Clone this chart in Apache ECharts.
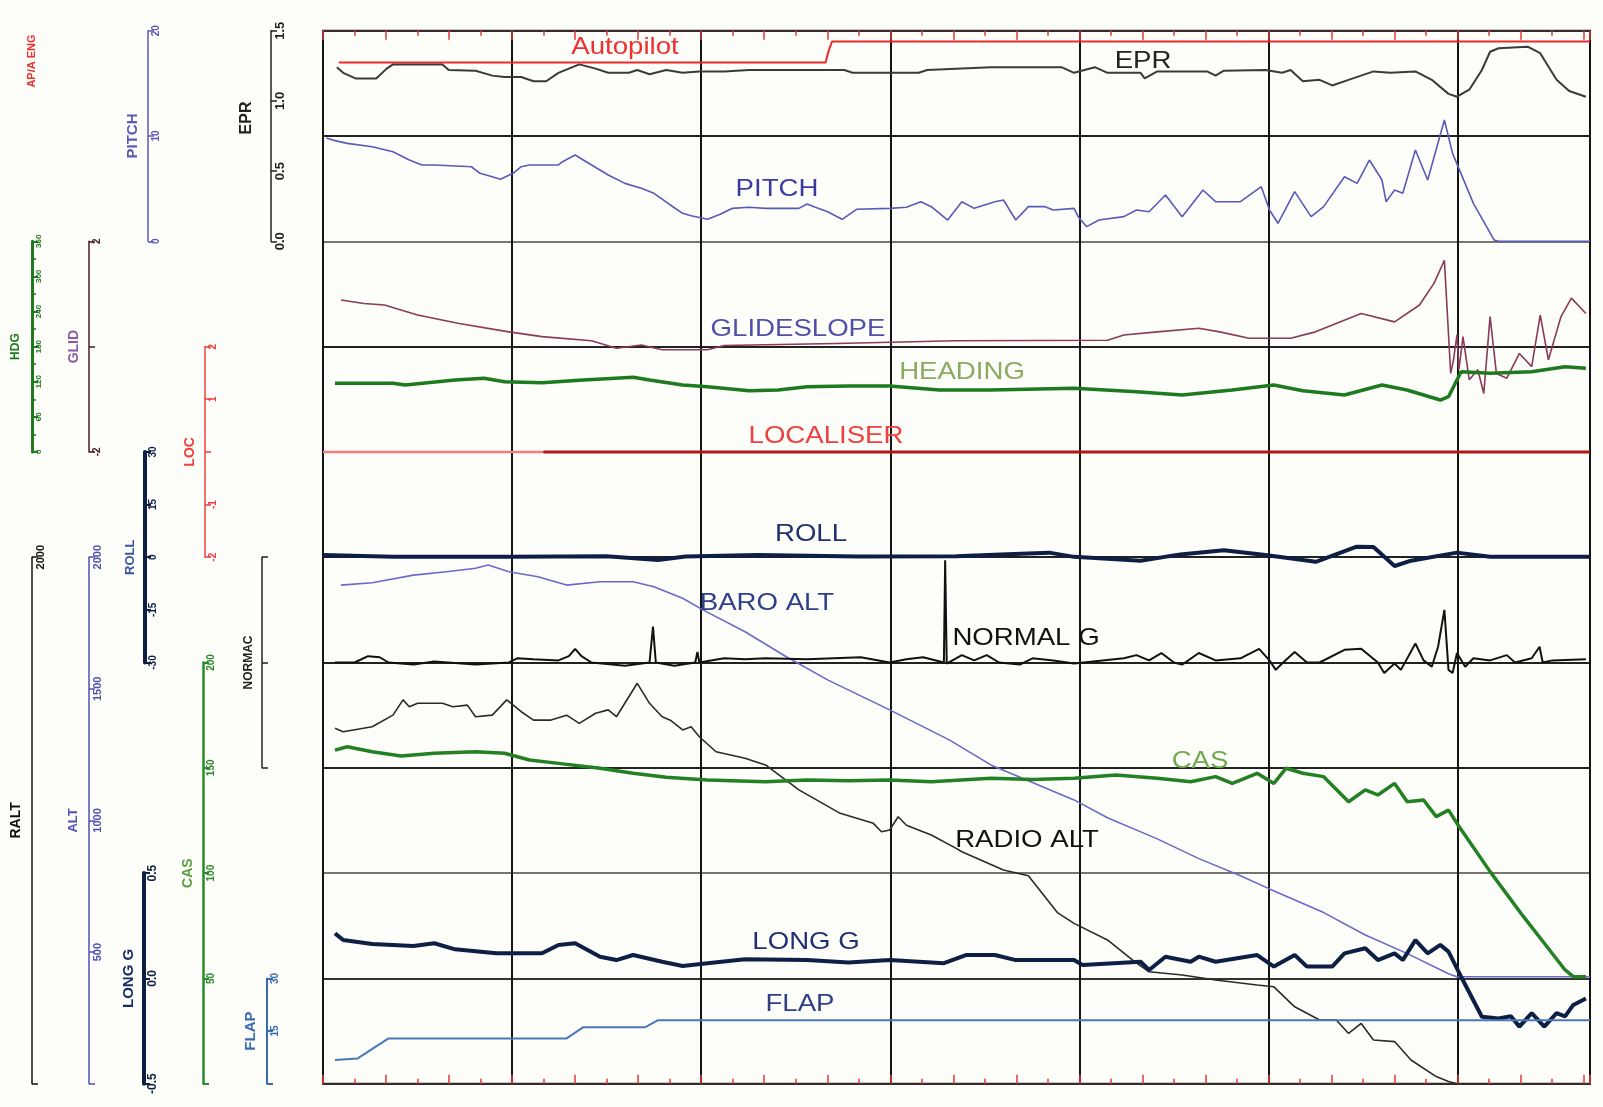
<!DOCTYPE html>
<html><head><meta charset="utf-8">
<script src="https://cdn.jsdelivr.net/npm/echarts@6/dist/echarts.min.js"></script>
<style>html,body{margin:0;padding:0;background:#fdfdf9;}#c{width:1603px;height:1107px;}</style>
</head><body><div id="c"></div>
<script>
// ---------- DATA (time in seconds, value in parameter units) ----------
const timeMax = 402;
const autopilot = [[5,0],[159.5,0],[160.3,0.5],[161.5,1],[402,1]];
const epr = [[4.4,1.24],[6.4,1.2],[10.3,1.16],[16.9,1.16],[20.2,1.23],[22.2,1.26],[37.9,1.26],[39.9,1.22],[48.4,1.215],[53.7,1.18],[57.6,1.17],[62.9,1.17],[66.8,1.14],[70.8,1.14],[74.7,1.2],[81.3,1.26],[86.5,1.23],[90.5,1.2],[97.1,1.2],[99.7,1.22],[103.6,1.19],[108.9,1.22],[114.1,1.2],[119.4,1.21],[127.3,1.21],[135.2,1.22],[148.3,1.22],[165.4,1.22],[168,1.2],[189,1.2],[191.7,1.22],[211.9,1.24],[234.3,1.24],[238.3,1.2],[244.9,1.24],[248.9,1.2],[259.4,1.2],[260.7,1.16],[264.7,1.21],[280.5,1.21],[283.2,1.18],[285.8,1.215],[299,1.22],[304.3,1.2],[307,1.22],[310.9,1.14],[316.2,1.15],[320.2,1.11],[325.4,1.15],[333.3,1.21],[338.6,1.2],[346.6,1.21],[351.8,1.15],[357.1,1.05],[359.8,1.03],[363.7,1.08],[367.7,1.22],[370.3,1.35],[373,1.375],[382.2,1.386],[386.2,1.34],[391.4,1.15],[395.4,1.07],[400.7,1.03]];
const pitch = [[1.1,9.8],[3.8,9.56],[7.7,9.3],[15.6,8.98],[22.2,8.51],[27.4,7.72],[31.4,7.25],[35.3,7.25],[47.1,7.08],[49.8,6.46],[53.7,6.13],[56.3,5.89],[60.3,6.46],[62.9,7.08],[65.5,7.25],[74.7,7.25],[76,7.56],[80,8.2],[82.6,7.72],[90.5,6.3],[95.8,5.5],[101,5.03],[105,4.56],[110.2,3.45],[114.1,2.66],[116.8,2.43],[122,2.09],[126,2.56],[129.9,3.13],[135.2,3.23],[140.4,3.13],[151,3.13],[153.6,3.54],[156.2,3.23],[160.1,2.8],[164.7,2.09],[169.3,3.04],[179.8,3.13],[185.1,3.23],[189.7,3.76],[193,3.29],[198.2,2.02],[202.7,3.76],[206.6,3.13],[213.2,3.76],[215.9,3.92],[219.8,2.02],[223.8,3.29],[229.1,3.29],[231.7,2.97],[238.3,3.13],[239.6,2.34],[242.3,1.39],[246.2,2.02],[254.1,2.34],[258.1,2.97],[262.1,2.8],[267.3,4.4],[272.6,2.34],[279.2,4.87],[283.2,3.76],[291.1,3.76],[297.7,5.19],[300.3,2.97],[303,1.71],[308.3,4.72],[313.5,2.34],[317.5,3.29],[324.1,6.13],[328.1,5.5],[332,7.72],[336,5.82],[337.3,3.76],[340,4.87],[342.6,4.56],[346.6,8.67],[350.5,5.82],[355.8,11.52],[358.4,8.35],[365,3.6],[371.6,0.12],[373,0],[402,0]];
const glideslope = [[5.7,0.885],[13,0.82],[19.5,0.79],[30,0.6],[43.2,0.44],[59,0.28],[69.5,0.19],[85.2,0.11],[93.1,-0.03],[101,0.03],[107.6,-0.06],[122,-0.06],[127.3,0.02],[162.8,0.06],[200.9,0.11],[248.9,0.12],[254.1,0.22],[264.7,0.28],[277.9,0.35],[284.5,0.28],[293.8,0.16],[307,0.16],[314.9,0.28],[329.4,0.63],[340,0.47],[347.9,0.79],[352.5,1.2],[355.8,1.64],[357.8,-0.51],[358.7,-0.25],[359.8,0.23],[360.4,-0.44],[361.7,0.19],[363.7,-0.63],[366.4,-0.44],[368.3,-0.89],[370.3,0.57],[372.3,-0.51],[375.6,-0.6],[379.6,-0.13],[383.5,-0.38],[386.2,0.6],[388.8,-0.25],[392.8,0.57],[396.1,0.92],[400.7,0.63]];
const heading = [[3.8,117.3],[22.2,117.3],[26.1,114.4],[41.9,122.9],[51.1,125.8],[57.6,120],[69.5,118.3],[82.6,122.9],[98.4,127.5],[103.6,122.9],[114.1,114.4],[122,111.5],[135.2,104.6],[144.4,105.8],[153.6,111.5],[166.7,112.7],[179.8,112.7],[195.6,105.8],[211.9,105.8],[238.3,108.7],[258.1,102.9],[272.6,97.3],[288.5,105.8],[301.7,114.4],[310.9,104.6],[324.1,97.3],[336,114.4],[343.9,105.8],[354.5,88.7],[357.1,94.4],[361.1,137.1],[370.3,134.4],[383.5,137.1],[394.1,145.6],[400.7,142.9]];
const localiserEarly = [[0,0],[70,0]];
const localiserLate = [[70,0],[402,0]];
const roll = [[0,0.6],[22.2,0.1],[59,0.1],[90,0.3],[106.3,-0.8],[115,0.2],[137.8,0.6],[170,0.2],[200.9,0.3],[215,0.8],[230.4,1.3],[238.3,0.1],[259.4,-1.0],[272,0.8],[285.8,2.0],[299,0.6],[315,-1.3],[328,3.0],[333.3,2.9],[340,-2.5],[345.2,-1.0],[359.8,1.3],[370.3,0.1],[402,0.1]];
const baroAlt = [[5.7,1894],[15.6,1903],[28.7,1932],[39.2,1945],[48.4,1958],[52.4,1970],[59,1945],[68.2,1926],[77.3,1894],[87.9,1907],[98.4,1907],[105,1888],[114.1,1844],[120.7,1799],[133.9,1717],[147,1622],[160.1,1534],[179.8,1420],[198.7,1306],[211.9,1211],[238.3,1078],[248.9,1010],[264.7,930],[277.9,855],[291.1,790],[300.3,740],[317.5,650],[330.7,565],[343.9,495],[357.1,418],[359.8,406],[402,406]];
const normalG = [[3.8,1.0],[10,1.0],[14.3,1.06],[18,1.05],[20.8,1.0],[28.7,0.98],[35.3,1.01],[48.4,0.98],[59,1.0],[61.6,1.04],[66.8,1.03],[74.7,1.02],[78,1.06],[80,1.13],[82,1.06],[85.2,1.0],[95.8,0.97],[103.6,1.0],[104.7,1.34],[105.6,1.0],[111.5,0.97],[118.1,1.0],[118.8,1.1],[119.4,1.0],[127.3,1.04],[133.9,1.03],[140.4,1.04],[153.6,1.03],[170.6,1.05],[179.8,1.0],[185.1,1.03],[190.4,1.05],[197,1.0],[197.4,1.97],[197.9,0.99],[202.7,1.07],[206.6,1.02],[210.6,1.07],[214.5,1.0],[221.1,0.98],[225.1,1.04],[231.7,1.02],[238.3,0.99],[254.1,1.04],[258.1,1.07],[262.1,1.02],[266,1.09],[270,1.0],[272.6,0.98],[277.9,1.09],[283.2,1.02],[291.1,1.04],[297,1.13],[300.3,1.02],[302.3,0.93],[304.3,0.99],[308.3,1.1],[312.2,1.0],[316.2,1.0],[324.1,1.12],[329.4,1.13],[334.7,1.0],[336.7,0.9],[340,0.99],[342,0.93],[346.6,1.18],[349.2,1.02],[351.8,0.96],[353.8,1.15],[355.8,1.5],[357.1,0.93],[358.4,0.9],[359.8,1.09],[362.4,0.96],[365,1.04],[370.3,1.02],[375.6,1.07],[378.2,1.0],[383.5,1.04],[386,1.15],[387,1.0],[390.1,1.02],[400.7,1.03]];
const radioAlt = [[3.8,1350],[6.4,1337],[15.6,1356],[22.2,1400],[25.4,1458],[27.4,1432],[30,1445],[37.9,1445],[41.2,1432],[45.8,1438],[48.4,1394],[53.7,1400],[58.3,1458],[62.9,1413],[66.8,1381],[72.1,1381],[77.3,1400],[81.3,1369],[86.5,1407],[90.5,1420],[93.1,1394],[99.7,1521],[103.6,1445],[107.6,1394],[110.2,1381],[114.1,1344],[116.8,1356],[119.4,1318],[124.7,1261],[133.9,1236],[140.4,1211],[151,1116],[164.1,1027],[174.6,989],[177.2,957],[179.8,964],[182.5,1014],[185.1,982],[193,945],[200.9,894],[202.7,881],[215.9,812],[223.8,790],[233,650],[238.3,609],[248.9,546],[256.8,470],[262.1,425],[272.6,413],[283.2,394],[296.4,375],[301.7,368],[308.3,292],[316.2,242],[321.5,242],[325.4,191],[329.4,229],[333.3,166],[340,160],[345.2,90],[353.2,27],[357.1,8],[359.8,0]];
const cas = [[3.8,158.4],[7.7,160],[15.6,157.6],[24.8,155.6],[35.3,156.9],[48.4,157.6],[57.6,156.9],[65.5,153.7],[74.7,152.1],[87.9,149.8],[98.4,147.4],[108.9,145.5],[122,144.2],[140.4,143.4],[153.6,144.2],[166.7,143.9],[179.8,144.2],[193,143.4],[211.9,145],[225.1,144.5],[238.3,145],[251.5,146.6],[264.7,145],[275.3,143.4],[283.2,145.8],[288.5,142.6],[296.4,147.4],[301.7,142.6],[305.6,149.8],[310.9,147.4],[317.5,145.8],[325.4,133.9],[330.7,139.5],[334.7,137.1],[340,142.6],[344,133.9],[349.2,134.7],[353.2,126.8],[357.1,129.9],[359.8,123.6],[370.3,100.7],[380.9,79.3],[387.5,66.7],[394.1,54],[396.7,50.8],[400.7,50.8]];
const longG = [[3.8,0.214],[6.4,0.182],[15.6,0.163],[28.7,0.154],[35.3,0.167],[41.9,0.138],[55,0.119],[69.5,0.119],[74.7,0.159],[80,0.167],[87.9,0.103],[93.1,0.087],[98.4,0.111],[107.6,0.079],[114.1,0.059],[122,0.072],[133.9,0.091],[153.6,0.087],[166.7,0.075],[179.8,0.087],[197,0.072],[204,0.111],[213.2,0.111],[219.8,0.087],[238.3,0.087],[241,0.064],[259.4,0.079],[262.1,0.04],[267.3,0.103],[275.3,0.079],[277.9,0.103],[283.2,0.079],[296.4,0.111],[301.7,0.056],[308.3,0.111],[312.2,0.056],[320.2,0.056],[324.1,0.119],[330.7,0.143],[334.7,0.087],[340,0.119],[342.6,0.087],[346.6,0.182],[350.5,0.119],[354.5,0.159],[357.1,0.127],[361.1,0.008],[367.7,-0.182],[373,-0.19],[376.9,-0.18],[379.6,-0.229],[383.5,-0.165],[387.5,-0.229],[391.4,-0.165],[394.1,-0.18],[396.7,-0.126],[400.7,-0.095]];
const flap = [[3.8,6.75],[11,7.2],[20.8,12.9],[77.3,12.9],[82.6,16.1],[102.3,16.1],[106.3,18.1],[402,18.1]];

// ---------- LAYOUT ----------
const FONT = '"Liberation Sans", Arial, sans-serif';
const L = 323, W = 1267, T0 = 30.7, B = 105.3;
const grids = [], xAxes = [], yAxes = [], series = [];

function addGrid(top, h) {
  grids.push({left: L, top: top, width: W, height: h, show: false});
  const g = grids.length - 1;
  xAxes.push({gridIndex: g, type: 'value', min: 0, max: timeMax, show: false});
  return {g: g, x: xAxes.length - 1};
}
function addY(G, o) {
  const c = o.color;
  yAxes.push({
    gridIndex: G.g, type: 'value', min: o.min, max: o.max, interval: o.interval,
    position: 'left', offset: L - o.x,
    axisLine: {show: o.line !== false, onZero: false, lineStyle: {color: c, width: o.lw || 1.5}},
    axisTick: {show: o.line !== false, inside: true, length: o.tl || 6, lineStyle: {color: c, width: o.lw ? Math.min(o.lw, 2) : 1.5}},
    minorTick: o.minor ? {show: true, splitNumber: o.minor, length: 4, lineStyle: {color: c, width: 1.5}} : {show: false},
    axisLabel: {show: !!o.fmt, inside: true, rotate: 90, color: c, fontSize: o.ls || 10, fontFamily: FONT, fontWeight: 'bold', margin: 3, formatter: o.fmt || undefined},
    splitLine: {show: false},
    name: o.name, nameLocation: 'middle', nameRotate: 90, nameGap: o.gap,
    nameTextStyle: {color: o.nc || c, fontSize: o.ns || 12, fontFamily: FONT, fontWeight: 'bold', padding: o.pad || 0}
  });
  return yAxes.length - 1;
}
function addLine(G, yi, data, color, width, name) {
  series.push({type: 'line', name: name, xAxisIndex: G.x, yAxisIndex: yi, data: data,
    showSymbol: false, symbol: 'none', clip: false, animation: false,
    lineStyle: {color: color, width: width}, z: 3});
}
const hide0 = v => (v === 0 ? '' : String(v));
const fix1 = v => v.toFixed(1);

// background frame & grid lines
const gBg = addGrid(T0, 10 * B);
grids[gBg.g].show = true; grids[gBg.g].borderColor = '#222'; grids[gBg.g].borderWidth = 2;
Object.assign(xAxes[gBg.x], {show: true, interval: 60, axisLine: {show: false}, axisTick: {show: false}, axisLabel: {show: false},
  splitLine: {show: true, lineStyle: {color: '#141414', width: 2}}});
yAxes.push({gridIndex: gBg.g, type: 'value', min: 0, max: 10, interval: 1, axisLine: {show: false}, axisTick: {show: false}, axisLabel: {show: false},
  splitLine: {show: true, lineStyle: {color: ['#222', '#333', '#7a7470', '#222', '#222', '#222', '#222', '#222', '#7a7470', '#222', '#222'], width: 2}}});
// tick grid (red ticks top & bottom)
grids.push({left: L, top: T0, width: W, height: 10 * B, show: false});
const gTk = grids.length - 1;
const tickAx = pos => ({gridIndex: gTk, type: 'value', min: 0, max: timeMax, interval: 20, position: pos,
  axisLine: {show: true, onZero: false, lineStyle: {color: '#3a2a2a', width: 2}},
  axisTick: {show: true, inside: true, length: 9, lineStyle: {color: '#e03a3a', width: 1.5}},
  minorTick: {show: true, splitNumber: 2, length: 5, lineStyle: {color: '#e03a3a', width: 1.5}},
  axisLabel: {show: false}, splitLine: {show: false}});
xAxes.push(tickAx('bottom'), tickAx('top'));
yAxes.push({gridIndex: gTk, type: 'value', min: 0, max: 1, show: false});

// Autopilot (discrete 0/1)
const gAp = addGrid(41.5, 39);
const yAp = addY(gAp, {min: -0.85, max: 1, x: 44, color: '#ee3030', name: 'AP/A ENG', gap: 7, line: false, ns: 11});
// EPR
const gEpr = addGrid(T0, 2 * B);
const yEpr = addY(gEpr, {min: 0, max: 1.5, interval: 0.5, x: 271, color: '#222', name: 'EPR', gap: 16, ns: 16, fmt: fix1, ls: 13, pad: [0, 0, 0, 36]});
// PITCH
const gPit = addGrid(T0, 2 * B);
const yPit = addY(gPit, {min: 0, max: 20, interval: 10, x: 148, color: '#5a5ab8', name: 'PITCH', gap: 5, fmt: v => String(v), ls: 10, ns: 15});
// GLIDESLOPE
const gGs = addGrid(T0 + 2 * B, 2 * B);
const yGs = addY(gGs, {min: -2, max: 2, interval: 2, x: 89, color: '#4a1a2a', nc: '#8a5aa8', name: 'GLID', gap: 6, fmt: hide0, ls: 10, ns: 14});
// HEADING
const gHdg = addGrid(T0 + 2 * B, 2 * B);
const yHdg = addY(gHdg, {min: 0, max: 360, interval: 60, x: 32, color: '#1e7a1e', name: 'HDG', gap: 10, lw: 3, minor: 2, fmt: v => String(v), ls: 8, ns: 12});
// LOCALISER
const gLoc = addGrid(T0 + 3 * B, 2 * B);
const yLoc = addY(gLoc, {min: -2, max: 2, interval: 1, x: 205, color: '#f04040', name: 'LOC', gap: 5, fmt: hide0, ls: 10, ns: 14});
// ROLL
const gRoll = addGrid(T0 + 4 * B, 2 * B);
const yRoll = addY(gRoll, {min: -30, max: 30, interval: 15, x: 145, color: '#0d1f45', nc: '#3a55a0', name: 'ROLL', gap: 7, lw: 4, fmt: v => String(v), ls: 10, ns: 13});
// NORMAL G
const gNg = addGrid(T0 + 5 * B, 2 * B);
const yNg = addY(gNg, {min: 0, max: 2, interval: 1, x: 262, color: '#222', name: 'NORMAC', gap: 7, ns: 12});
// ALT / RALT
const gAlt = addGrid(T0 + 5 * B, 5 * B);
const yAlt = addY(gAlt, {min: 0, max: 2000, interval: 500, x: 89, color: '#5050b4', name: 'ALT', gap: 9, fmt: hide0, ls: 11, ns: 13});
const yRalt = addY(gAlt, {min: 0, max: 2000, interval: 2000, x: 32, color: '#111', name: 'RALT', gap: 9, fmt: hide0, ls: 11, ns: 14});
// CAS
const gCas = addGrid(T0 + 6 * B, 4 * B);
const yCas = addY(gCas, {min: 0, max: 200, interval: 50, x: 203, color: '#2a8a2a', nc: '#5aa040', name: 'CAS', gap: 3, lw: 2.5, fmt: hide0, ls: 10, ns: 14});
// LONG G
const gLg = addGrid(T0 + 8 * B, 2 * B);
const yLg = addY(gLg, {min: -0.5, max: 0.5, interval: 0.5, x: 144, color: '#0d1f45', nc: '#1a2d6a', name: 'LONG G', gap: 7, lw: 4, fmt: fix1, ls: 12, ns: 15});
// FLAP
const gFl = addGrid(T0 + 9 * B, B);
const yFl = addY(gFl, {min: 0, max: 30, interval: 15, x: 267, color: '#3a6ab0', name: 'FLAP', gap: 9, lw: 2, fmt: hide0, ls: 10, ns: 15});

// series
addLine(gAp, yAp, autopilot, '#ee2a2a', 2, 'Autopilot');
addLine(gEpr, yEpr, epr, '#3a3a3a', 2, 'EPR');
addLine(gPit, yPit, pitch, '#5a5ab8', 1.6, 'PITCH');
addLine(gGs, yGs, glideslope, '#8a3a5a', 1.6, 'GLIDESLOPE');
addLine(gHdg, yHdg, heading, '#1e7a1e', 3.5, 'HEADING');
addLine(gLoc, yLoc, localiserEarly, '#f08080', 2.5, 'LOCALISER');
addLine(gLoc, yLoc, localiserLate, '#b01818', 3, 'LOCALISER');
addLine(gRoll, yRoll, roll, '#0d1f45', 4, 'ROLL');
addLine(gAlt, yAlt, baroAlt, '#6a6ac8', 1.6, 'BARO ALT');
addLine(gNg, yNg, normalG, '#111', 2, 'NORMAL G');
addLine(gAlt, yRalt, radioAlt, '#2a2a2a', 1.6, 'RADIO ALT');
addLine(gCas, yCas, cas, '#238023', 3.5, 'CAS');
addLine(gLg, yLg, longG, '#0d1f45', 4, 'LONG G');
addLine(gFl, yFl, flap, '#4a78b8', 2, 'FLAP');

// in-plot trace labels
const labels = [
  ['Autopilot', 625, 47, '#ee3030'], ['EPR', 1143, 61, '#222'], ['PITCH', 777, 189, '#3a3aa0'],
  ['GLIDESLOPE', 798, 329, '#5050a8'], ['HEADING', 962, 372, '#8aaa60'], ['LOCALISER', 826, 436, '#ee4040'],
  ['ROLL', 811, 534, '#203070'], ['BARO ALT', 767, 603, '#304088'], ['NORMAL G', 1026, 638, '#111'],
  ['CAS', 1200, 761, '#70aa50'], ['RADIO ALT', 1027, 840, '#111'], ['LONG G', 806, 942, '#203070'],
  ['FLAP', 800, 1004, '#304088']
];
const graphic = labels.map(([t, x, y, c]) => ({type: 'text', x: x, y: y, z: 10, scaleX: 1.15,
  style: {text: t, fill: c, font: '24px ' + FONT, textAlign: 'center', textVerticalAlign: 'middle'}}));

const chart = echarts.init(document.getElementById('c'), null, {renderer: 'canvas'});
chart.setOption({backgroundColor: '#fdfdf9', animation: false, grid: grids, xAxis: xAxes, yAxis: yAxes, series: series, graphic: graphic});
</script></body></html>
